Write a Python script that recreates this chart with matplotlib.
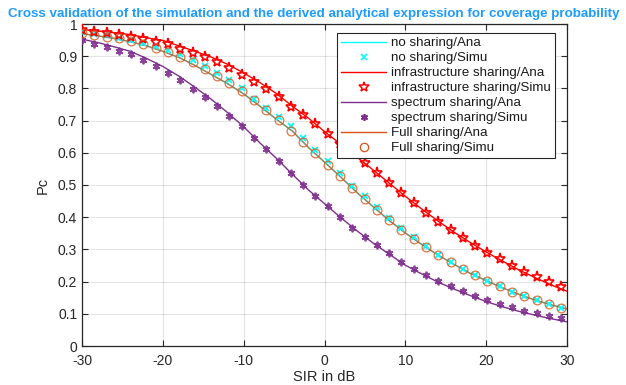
import matplotlib
matplotlib.use("Agg")
import matplotlib.pyplot as plt
from matplotlib.lines import Line2D

plt.rcParams['font.family'] = ['Liberation Sans', 'DejaVu Sans']

# ---- data ----
sir_ana = [-30, -28, -26, -24, -22, -20, -18, -16, -14, -12, -10, -8, -6, -4, -2,
           0, 2, 4, 6, 8, 10, 12, 14, 16, 18, 20, 22, 24, 26, 28, 30]

full_ana = [0.970, 0.963, 0.955, 0.945, 0.932, 0.915, 0.896, 0.871, 0.843, 0.815,
            0.783, 0.745, 0.705, 0.668, 0.617, 0.571, 0.525, 0.477, 0.433, 0.390,
            0.351, 0.316, 0.283, 0.254, 0.226, 0.203, 0.181, 0.161, 0.143, 0.128, 0.115]
no_ana = [0.970, 0.963, 0.955, 0.945, 0.932, 0.915, 0.896, 0.871, 0.843, 0.815,
          0.783, 0.745, 0.705, 0.668, 0.617, 0.571, 0.525, 0.477, 0.433, 0.390,
          0.351, 0.316, 0.283, 0.254, 0.226, 0.203, 0.181, 0.161, 0.143, 0.128, 0.115]
infra_ana = [0.983, 0.978, 0.973, 0.967, 0.957, 0.949, 0.932, 0.915, 0.897, 0.875,
             0.848, 0.818, 0.785, 0.745, 0.708, 0.666, 0.627, 0.587, 0.547, 0.506,
             0.465, 0.426, 0.389, 0.354, 0.322, 0.292, 0.264, 0.237, 0.213, 0.190, 0.170]
spec_ana = [0.953, 0.942, 0.929, 0.915, 0.893, 0.868, 0.838, 0.803, 0.766, 0.725,
            0.681, 0.631, 0.584, 0.534, 0.485, 0.442, 0.399, 0.358, 0.320, 0.285,
            0.251, 0.224, 0.199, 0.177, 0.157, 0.138, 0.122, 0.108, 0.096, 0.085, 0.075]

sir_sim = [-30.00, -28.48, -26.96, -25.44, -23.92, -22.40, -20.88, -19.36, -17.84, -16.32,
           -14.80, -13.28, -11.76, -10.24, -8.72, -7.20, -5.68, -4.16, -2.64, -1.12,
           0.40, 1.92, 3.44, 4.96, 6.48, 8.00, 9.52, 11.04, 12.56, 14.08,
           15.60, 17.12, 18.64, 20.16, 21.68, 23.20, 24.72, 26.24, 27.76, 29.28]

no_sim = [0.974, 0.968, 0.965, 0.958, 0.951, 0.941, 0.932, 0.920, 0.906, 0.889,
          0.869, 0.849, 0.826, 0.800, 0.768, 0.738, 0.712, 0.682, 0.647, 0.610,
          0.573, 0.537, 0.498, 0.465, 0.432, 0.399, 0.366, 0.337, 0.310, 0.284,
          0.261, 0.240, 0.220, 0.202, 0.185, 0.169, 0.155, 0.142, 0.130, 0.119]
infra_sim = [0.982, 0.976, 0.971, 0.966, 0.961, 0.953, 0.945, 0.937, 0.922, 0.910,
             0.897, 0.881, 0.862, 0.843, 0.821, 0.797, 0.772, 0.743, 0.716, 0.689,
             0.658, 0.628, 0.597, 0.567, 0.537, 0.505, 0.474, 0.443, 0.414, 0.385,
             0.359, 0.334, 0.311, 0.289, 0.269, 0.249, 0.231, 0.215, 0.199, 0.184]
spec_sim = [0.949, 0.939, 0.930, 0.917, 0.906, 0.889, 0.870, 0.849, 0.826, 0.799,
            0.772, 0.745, 0.714, 0.683, 0.646, 0.611, 0.575, 0.538, 0.499, 0.466,
            0.435, 0.402, 0.368, 0.338, 0.314, 0.288, 0.261, 0.240, 0.220, 0.203,
            0.187, 0.172, 0.156, 0.143, 0.130, 0.120, 0.110, 0.101, 0.094, 0.086]
full_sim = [0.971, 0.966, 0.961, 0.955, 0.947, 0.938, 0.926, 0.914, 0.898, 0.881,
            0.859, 0.838, 0.817, 0.792, 0.764, 0.733, 0.701, 0.668, 0.634, 0.598,
            0.562, 0.527, 0.491, 0.456, 0.422, 0.390, 0.360, 0.333, 0.307, 0.283,
            0.261, 0.240, 0.220, 0.202, 0.185, 0.169, 0.155, 0.142, 0.130, 0.119]

labels = ['no sharing/Ana', 'no sharing/Simu', 'infrastructure sharing/Ana',
          'infrastructure sharing/Simu', 'spectrum sharing/Ana', 'spectrum sharing/Simu',
          'Full sharing/Ana', 'Full sharing/Simu']
xticks = [-30, -20, -10, 0, 10, 20, 30]
yticks = [0, 0.1, 0.2, 0.3, 0.4, 0.5, 0.6, 0.7, 0.8, 0.9, 1]
ytick_labels = ['0', '0.1', '0.2', '0.3', '0.4', '0.5', '0.6', '0.7', '0.8', '0.9', '1']

# ---- colours ----
C_CYAN = '#00FFFF'
C_RED = '#FF0000'
C_PURP = '#7E2F8E'
C_ORNG = '#D95319'

W, H = 626, 385
fig = plt.figure(figsize=(W / 100, H / 100), dpi=100)
ax = fig.add_axes([82 / W, 1 - 346 / H, 485 / W, 322 / H])

ax.plot(sir_ana, no_ana, color=C_CYAN, lw=1.0, zorder=3)
ax.plot(sir_sim, no_sim, ls='none', marker='x', ms=4, mew=1.3, color=C_CYAN, zorder=5)
ax.plot(sir_ana, infra_ana, color=C_RED, lw=1.0, zorder=3)
ax.plot(sir_sim, infra_sim, ls='none', marker='*', ms=8, mew=1.2,
        mfc='none', mec=C_RED, zorder=5)
ax.plot(sir_ana, spec_ana, color=C_PURP, lw=1.0, zorder=3)
ax.plot(sir_sim, spec_sim, ls='none', marker=(6, 2, 0), ms=5.5, mew=1.3,
        color=C_PURP, alpha=0.9, zorder=5)
ax.plot(sir_ana, full_ana, color=C_ORNG, lw=1.0, alpha=0.75, zorder=4)
ax.plot(sir_sim, full_sim, ls='none', marker='o', ms=6.3, mew=0.9,
        mfc='none', mec=C_ORNG, alpha=0.8, zorder=5)

ax.set_xlim(-30, 30)
ax.set_ylim(0, 1)
ax.set_xticks(xticks)
ax.set_xticklabels([str(t) for t in xticks])
ax.set_yticks(yticks)
ax.set_yticklabels(ytick_labels)
ax.tick_params(direction='in', top=True, right=True, length=4, width=0.8,
               labelsize=10, labelcolor='#262626', colors='#262626')
ax.tick_params(axis='x', pad=6)
ax.grid(True, color='#262626', alpha=0.12, lw=0.8)
ax.set_axisbelow(True)
for s in ax.spines.values():
    s.set_color('#262626')
    s.set_linewidth(0.9)

ax.set_xlabel('SIR in dB', fontsize=10.5, color='#262626', labelpad=1.5)
ax.set_ylabel('Pc', fontsize=10.5, color='#262626', labelpad=6)

fig.text(314 / W, 1 - 14 / H,
         'Cross validation of the simulation and the derived analytical expression for coverage probability',
         ha='center', va='center', fontsize=9.6, fontweight='bold', color='#1E9BFF')

handles = [
    Line2D([], [], color=C_CYAN, lw=1.0),
    Line2D([], [], ls='none', marker='x', ms=4, mew=1.2, color=C_CYAN),
    Line2D([], [], color=C_RED, lw=1.0),
    Line2D([], [], ls='none', marker='*', ms=7, mew=1.1, mfc='none', mec=C_RED),
    Line2D([], [], color=C_PURP, lw=1.0),
    Line2D([], [], ls='none', marker=(6, 2, 0), ms=5, mew=1.2, color=C_PURP),
    Line2D([], [], color=C_ORNG, lw=1.0),
    Line2D([], [], ls='none', marker='o', ms=6, mew=0.9, mfc='none', mec=C_ORNG),
]
leg = ax.legend(handles, labels, loc='upper left',
                bbox_to_anchor=((337 - 82) / 485, (346 - 33) / 322),
                fontsize=9.6, frameon=True, fancybox=False, framealpha=1,
                edgecolor='#262626', handlelength=3.4, handletextpad=0.35,
                labelspacing=0.2, borderpad=0.3, borderaxespad=0)
leg.get_frame().set_linewidth(0.8)
for t in leg.get_texts():
    t.set_color('#1a1a1a')

fig.savefig('out.png', dpi=100)
